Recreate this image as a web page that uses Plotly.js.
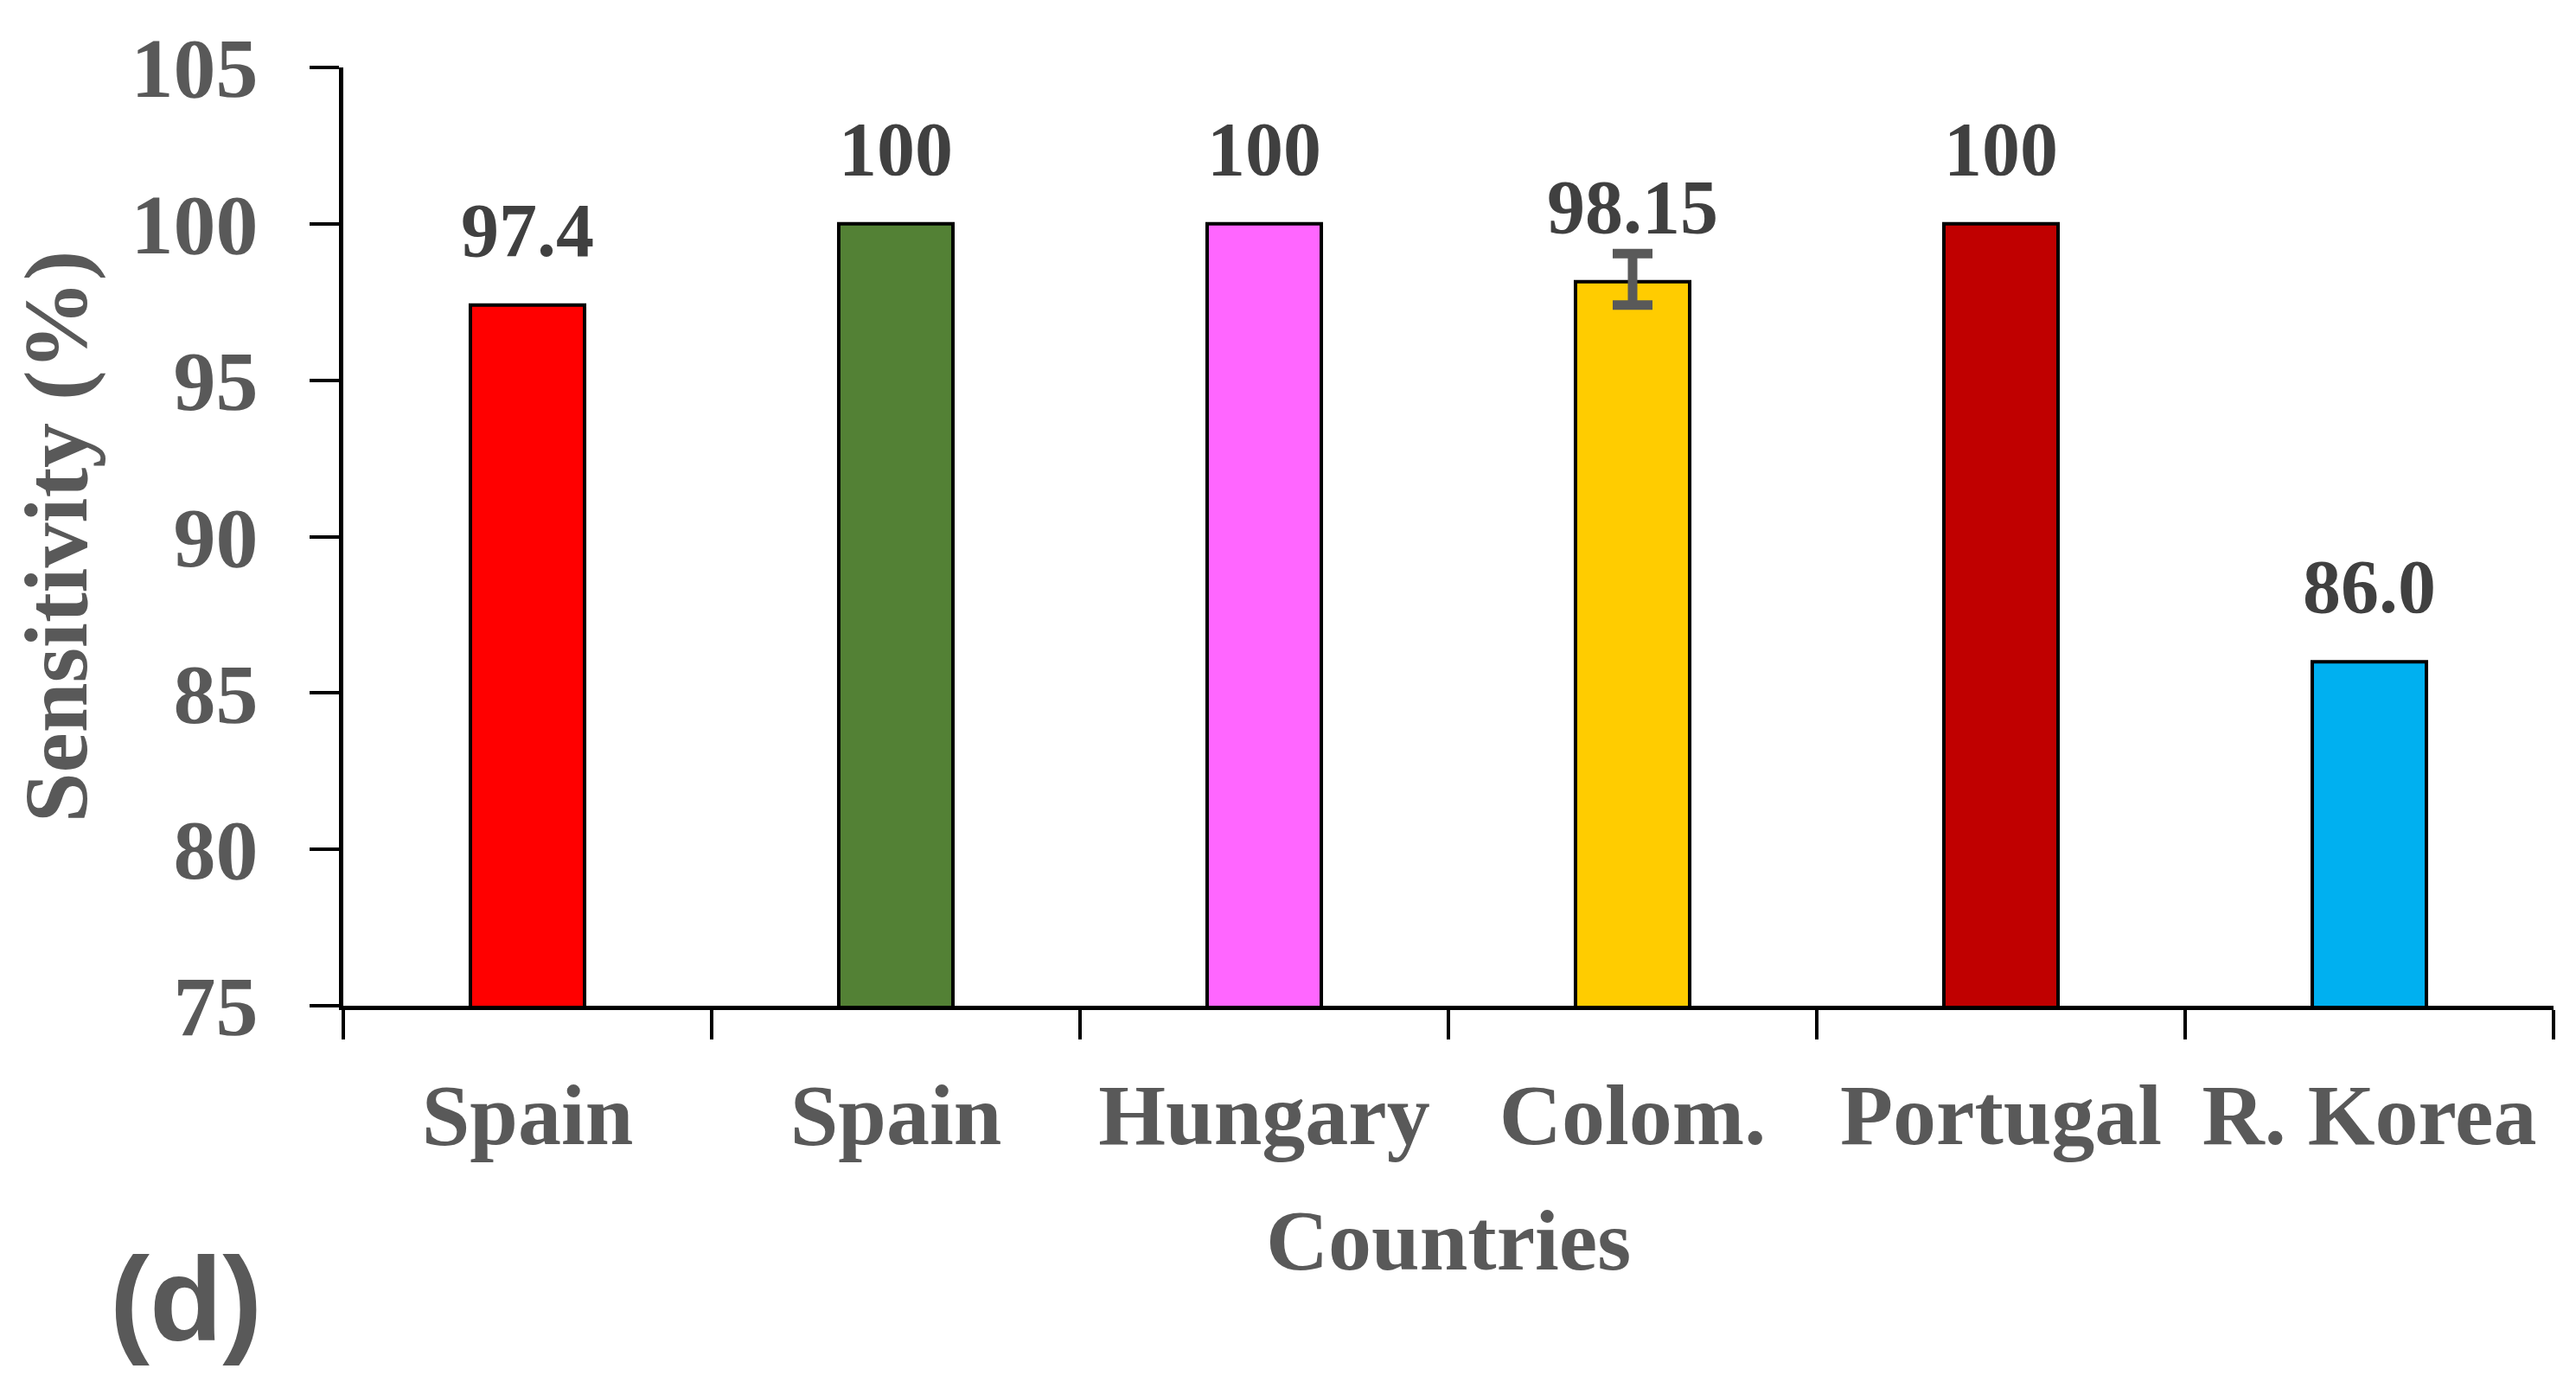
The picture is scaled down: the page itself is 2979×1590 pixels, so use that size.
<!DOCTYPE html>
<html>
<head>
<meta charset="utf-8">
<script src="https://cdn.plot.ly/plotly-3.0.1.min.js"></script>
<style>
  html, body { margin: 0; padding: 0; background: #ffffff; }
  #chart { width: 2979px; height: 1590px; }
</style>
</head>
<body>
<div id="chart"></div>
<script>
// ---- Data ----
const categories = ["Spain", "Spain", "Hungary", "Colom.", "Portugal", "R. Korea"];
const sensitivity = [97.4, 100, 100, 98.15, 100, 86.0];
const valueLabels = ["97.4", "100", "100", "98.15", "100", "86.0"];
const errorPlus = [null, null, null, 0.9, null, null];
const errorMinus = [null, null, null, 0.75, null, null];
const barColors = ["#FF0000", "#538135", "#FF66FF", "#FFCC00", "#C00000", "#00B0F0"];
const yTicks = [75, 80, 85, 90, 95, 100, 105];
const yTitle = "Sensitivity (%)";
const xTitle = "Countries";
const panelLabel = "(d)";

// unique internal keys so duplicate names ("Spain") get their own slot
const keys = categories.map((c, i) => c + "_" + i);

const serif = "Liberation Serif, Times New Roman, serif";
const labelGrey = "#595959";

const barTrace = {
  type: "bar",
  x: keys,
  y: sensitivity,
  width: 0.31,
  marker: {
    color: barColors,
    line: { color: "#000000", width: 4 }
  },
  hoverinfo: "skip"
};

// error bars only where the reference shows them
const errIdx = errorPlus.map((e, i) => (e === null ? -1 : i)).filter(i => i >= 0);
const errTrace = {
  type: "scatter",
  mode: "markers",
  x: errIdx.map(i => keys[i]),
  y: errIdx.map(i => sensitivity[i]),
  marker: { size: 1, opacity: 0 },
  error_y: {
    type: "data",
    symmetric: false,
    array: errIdx.map(i => errorPlus[i]),
    arrayminus: errIdx.map(i => errorMinus[i]),
    color: "#595959",
    thickness: 11,
    width: 23
  },
  hoverinfo: "skip"
};

const annotations = keys.map((k, i) => ({
  x: k,
  y: sensitivity[i],
  xref: "x",
  yref: "y",
  text: valueLabels[i],
  showarrow: false,
  xanchor: "center",
  yanchor: "bottom",
  yshift: 36,
  font: { family: serif, size: 88, color: "#404040", weight: "bold" }
}));

annotations.push({
  xref: "paper",
  yref: "paper",
  x: -0.0712,
  y: -0.3124,
  xanchor: "center",
  yanchor: "middle",
  text: panelLabel,
  showarrow: false,
  font: { family: "Liberation Sans, Arial, sans-serif", size: 138, color: labelGrey, weight: "bold" }
});

const layout = {
  width: 2979,
  height: 1590,
  margin: { l: 397, r: 26, t: 78, b: 427, pad: 0 },
  paper_bgcolor: "#ffffff",
  plot_bgcolor: "#ffffff",
  showlegend: false,
  xaxis: {
    type: "category",
    range: [-0.5, categories.length - 0.5],
    tickmode: "array",
    tickvals: keys,
    ticktext: categories,
    tickson: "boundaries",
    ticks: "outside",
    ticklen: 34,
    tickwidth: 4,
    tickcolor: "#000000",
    showline: true,
    linecolor: "#000000",
    linewidth: 5,
    showgrid: false,
    zeroline: false,
    automargin: false,
    ticklabelstandoff: 35,
    tickfont: { family: serif, size: 100, color: labelGrey, weight: "bold" },
    title: {
      text: xTitle,
      standoff: 55,
      font: { family: serif, size: 100, color: labelGrey, weight: "bold" }
    }
  },
  yaxis: {
    range: [75, 105],
    tickmode: "array",
    tickvals: yTicks,
    ticktext: yTicks.map(String),
    ticks: "outside",
    ticklen: 34,
    tickwidth: 4,
    tickcolor: "#000000",
    showline: true,
    linecolor: "#000000",
    linewidth: 5,
    showgrid: false,
    zeroline: false,
    automargin: false,
    ticklabelstandoff: 40,
    tickfont: { family: serif, size: 98, color: labelGrey, weight: "bold" },
    title: {
      text: yTitle,
      standoff: 18,
      font: { family: serif, size: 104, color: labelGrey, weight: "bold" }
    }
  },
  annotations: annotations
};

Plotly.newPlot("chart", [barTrace, errTrace], layout, { staticPlot: true, displayModeBar: false });
</script>
</body>
</html>
